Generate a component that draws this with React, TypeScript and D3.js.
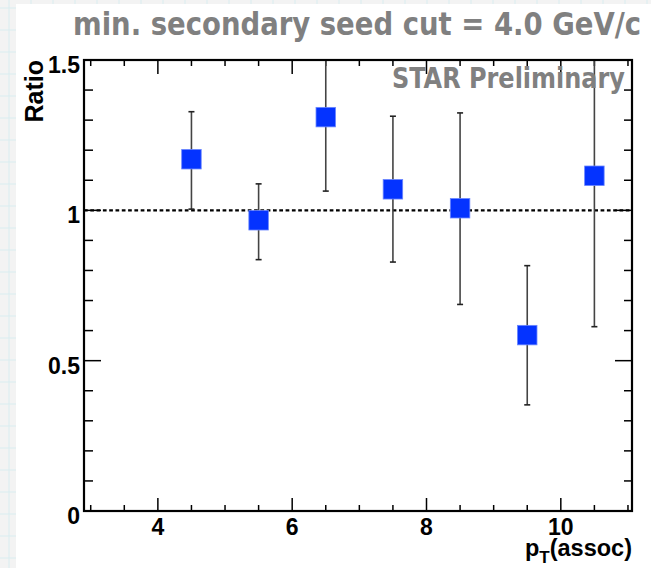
import React from "react";
import * as d3 from "d3";

const ptAssoc = [4.5, 5.5, 6.5, 7.5, 8.5, 9.5, 10.5];
const ratio = [1.17, 0.967, 1.31, 1.07, 1.007, 0.585, 1.115];
const errHigh = [1.328, 1.088, 1.556, 1.313, 1.324, 0.816, 1.617];
const errLow = [1.004, 0.836, 1.064, 0.828, 0.687, 0.353, 0.613];
const xTickLabels = [4, 6, 8, 10];
const yTickLabels = [0, 0.5, 1, 1.5];

const W = 651;
const H = 568;
const left = 84, right = 632, top = 60, bottom = 511;

export default function App() {
  const x = d3.scaleLinear().domain([2.9, 11.06]).range([left, right]);
  const y = d3.scaleLinear().domain([0, 1.5]).range([bottom, top]);

  const xMinor = d3.range(3, 11.01, 0.5);
  const yMinor = d3.range(0, 1.501, 0.1);
  const isMajorX = (v: number) => xTickLabels.some((t) => Math.abs(t - v) < 1e-6);
  const isMajorY = (v: number) => yTickLabels.some((t) => Math.abs(t - v) < 1e-6);

  const gridLines: JSX.Element[] = [];
  for (let gx = 9; gx < W; gx += 22) gridLines.push(<line key={"gx" + gx} x1={gx} x2={gx} y1={0} y2={H} stroke="#d9edf0" strokeWidth={1} />);
  for (let gy = 8; gy < H; gy += 22) gridLines.push(<line key={"gy" + gy} x1={0} x2={W} y1={gy} y2={gy} stroke="#d9edf0" strokeWidth={1} />);

  const ms = 19.5;

  return (
    <svg width={W} height={H} style={{ position: "absolute", left: 0, top: 0, display: "block" }}>
      <defs>
        <clipPath id="frame">
          <rect x={left} y={top} width={right - left} height={bottom - top} />
        </clipPath>
      </defs>
      <rect x={0} y={0} width={W} height={H} fill="#f3f3f3" />
      {gridLines}
      <rect x={16} y={4} width={W - 16} height={H - 4} fill="#ffffff" />

      {/* title */}
      <text x={73} y={35} fontFamily="'DejaVu Sans Condensed', 'DejaVu Sans', sans-serif" fontWeight="bold" fontSize={32} fill="#808080" textLength={568} lengthAdjust="spacingAndGlyphs">
        min. secondary seed cut = 4.0 GeV/c
      </text>

      {/* ticks */}
      {xMinor.map((v) => {
        const maj = isMajorX(v);
        return (
          <g key={"xt" + v}>
            <line x1={x(v)} x2={x(v)} y1={bottom} y2={bottom - (maj ? 13 : 6)} stroke="#000" strokeWidth={1.5} />
            <line x1={x(v)} x2={x(v)} y1={top} y2={top + (maj ? 14 : 6)} stroke="#000" strokeWidth={1.5} />
          </g>
        );
      })}
      {yMinor.map((v) => {
        const maj = isMajorY(v);
        return (
          <g key={"yt" + v}>
            <line x1={left} x2={left + (maj ? 17 : 9)} y1={y(v)} y2={y(v)} stroke="#000" strokeWidth={1.5} />
            <line x1={right} x2={right - (maj ? 17 : 8)} y1={y(v)} y2={y(v)} stroke="#000" strokeWidth={1.5} />
          </g>
        );
      })}

      {/* reference line at 1 */}
      <line x1={left} x2={right} y1={y(1)} y2={y(1)} stroke="#000" strokeWidth={2.2} strokeDasharray="3.7,2.6" />

      {/* error bars and markers */}
      <g clipPath="url(#frame)">
        {ptAssoc.map((p, i) => (
          <g key={"e" + i}>
            <line x1={x(p)} x2={x(p)} y1={y(errHigh[i])} y2={y(errLow[i])} stroke="#444" strokeWidth={1.6} />
            <line x1={x(p) - 3} x2={x(p) + 3} y1={y(errHigh[i])} y2={y(errHigh[i])} stroke="#222" strokeWidth={1.6} />
            <line x1={x(p) - 3} x2={x(p) + 3} y1={y(errLow[i])} y2={y(errLow[i])} stroke="#222" strokeWidth={1.6} />
          </g>
        ))}
        {ptAssoc.map((p, i) => (
          <rect key={"m" + i} x={x(p) - ms / 2} y={y(ratio[i]) - ms / 2} width={ms} height={ms} fill="#0433ff" stroke="#6a86ff" strokeWidth={0.8} />
        ))}
      </g>

      {/* frame */}
      <rect x={left} y={top} width={right - left} height={bottom - top} fill="none" stroke="#000" strokeWidth={2.2} />

      {/* STAR Preliminary */}
      <text x={392} y={88} fontFamily="'DejaVu Sans Condensed', 'DejaVu Sans', sans-serif" fontWeight="bold" fontSize={28} fill="#808080" textLength={233} lengthAdjust="spacingAndGlyphs">
        STAR Preliminary
      </text>

      {/* tick labels */}
      {yTickLabels.map((v) => (
        <text key={"yl" + v} x={80} y={y(v) + 5} dy="0.35em" textAnchor="end" fontFamily="'Liberation Sans', Arial, sans-serif" fontWeight="bold" fontSize={23} fill="#000">
          {String(v)}
        </text>
      ))}
      {xTickLabels.map((v) => (
        <text key={"xl" + v} x={x(v)} y={535} textAnchor="middle" fontFamily="'Liberation Sans', Arial, sans-serif" fontWeight="bold" fontSize={23} fill="#000">
          {String(v)}
        </text>
      ))}

      {/* axis titles */}
      <text x={632} y={556} textAnchor="end" fontFamily="'Liberation Sans', Arial, sans-serif" fontWeight="bold" fontSize={23.5} fill="#000">
        p<tspan fontSize={17} dy={7}>T</tspan><tspan dy={-7}>(assoc)</tspan>
      </text>
      <text transform="translate(43,60) rotate(-90)" textAnchor="end" fontFamily="'Liberation Sans', Arial, sans-serif" fontWeight="bold" fontSize={25} fill="#000">
        Ratio
      </text>
    </svg>
  );
}
